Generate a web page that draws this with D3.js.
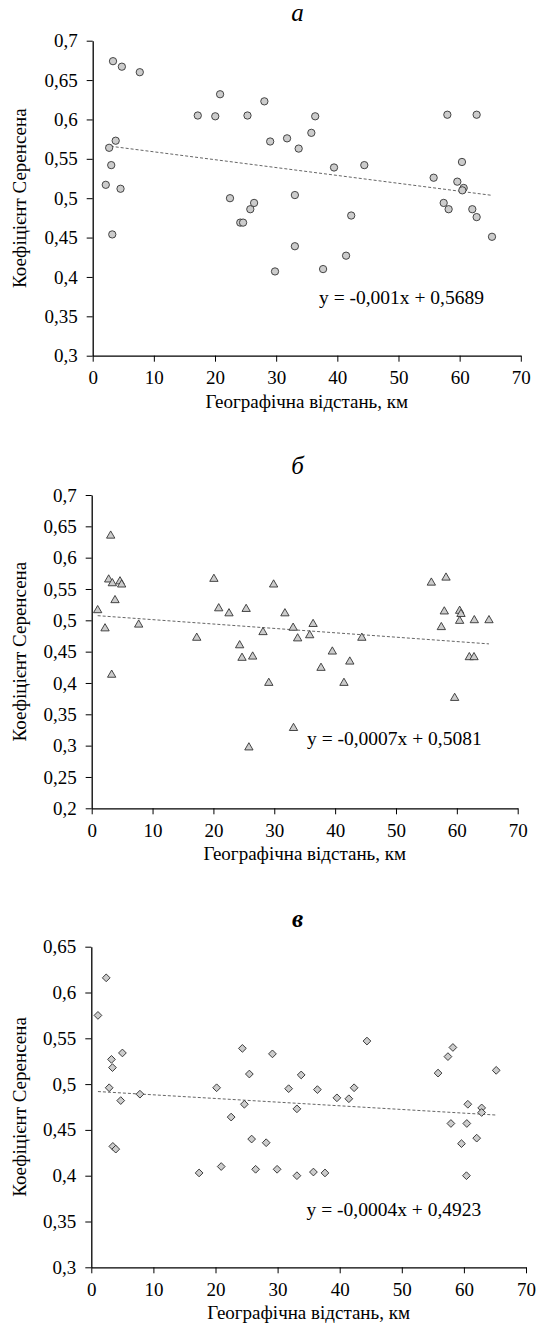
<!DOCTYPE html>
<html>
<head>
<meta charset="utf-8">
<script src="https://cdn.jsdelivr.net/npm/d3@7"></script>
<style>
body { margin: 0; background: #fff; }
svg { display: block; }
svg text { font-family: "Liberation Serif", "Times New Roman", Tinos, "DejaVu Serif", serif; }
</style>
</head>
<body>
<svg id="chart" width="538" height="1328"></svg>
<script>
// --- data ---
// а
var distA = [3.32, 4.77, 7.70, 17.18, 20.04, 20.83, 25.31, 28.07, 29.02, 31.78, 33.68, 35.75, 36.38,
    3.76, 2.69, 3.03, 2.14, 4.55, 39.46, 44.41, 55.75, 57.99, 62.78, 60.38, 59.62, 60.66, 60.44,
    22.45, 33.06, 25.77, 26.39, 24.13, 24.59, 3.2, 33.06, 29.81, 37.67, 41.43, 42.27,
    57.39, 58.2, 62.07, 62.78, 65.29];
var sorA = [0.674, 0.667, 0.660, 0.605, 0.604, 0.632, 0.605, 0.623, 0.572, 0.576, 0.563, 0.583, 0.604,
    0.573, 0.564, 0.542, 0.517, 0.512, 0.539, 0.542, 0.526, 0.606, 0.606, 0.546, 0.521, 0.513, 0.510,
    0.500, 0.504, 0.486, 0.494, 0.469, 0.469, 0.454, 0.439, 0.407, 0.410, 0.427, 0.478,
    0.494, 0.486, 0.486, 0.476, 0.451];
// б
var distB = [0.98, 2.19, 3.12, 2.79, 3.39, 4.65, 4.92, 3.83, 3.28, 7.72, 17.26, 20.08, 20.87, 22.56,
    24.31, 24.70, 25.38, 25.83, 26.45, 28.15, 29.10, 29.89, 31.75, 33.1, 33.16, 33.84, 35.82, 36.38,
    37.68, 39.54, 41.45, 42.41, 44.39, 55.81, 57.45, 57.94, 58.22, 59.64, 60.46, 60.68, 60.46,
    62.05, 62.82, 62.87, 65.28];
var sorB = [0.516, 0.487, 0.635, 0.565, 0.559, 0.562, 0.557, 0.532, 0.413, 0.493, 0.472, 0.566, 0.519, 0.511,
    0.460, 0.440, 0.518, 0.297, 0.442, 0.481, 0.400, 0.557, 0.511, 0.488, 0.328, 0.471, 0.476, 0.494,
    0.424, 0.450, 0.400, 0.434, 0.472, 0.560, 0.489, 0.514, 0.568, 0.376, 0.515, 0.510, 0.499,
    0.441, 0.441, 0.500, 0.500];
// в
var distC = [1.07, 2.40, 2.88, 3.25, 3.41, 3.47, 3.94, 4.74, 5.01, 7.83, 17.36, 20.18, 20.92, 22.52,
    24.33, 24.65, 25.45, 25.82, 26.46, 28.16, 29.17, 29.92, 31.78, 33.11, 33.11, 33.8, 35.77, 36.41,
    37.63, 39.55, 41.47, 42.32, 44.39, 55.84, 57.43, 58.23, 57.91, 59.61, 60.47, 60.63, 60.41,
    62.06, 62.86, 62.86, 65.2];
var sorC = [0.575, 0.616, 0.496, 0.527, 0.518, 0.432, 0.429, 0.482, 0.534, 0.489, 0.403, 0.496, 0.410, 0.464,
    0.539, 0.478, 0.511, 0.440, 0.407, 0.436, 0.533, 0.407, 0.495, 0.473, 0.400, 0.510, 0.404, 0.494,
    0.403, 0.485, 0.484, 0.496, 0.547, 0.512, 0.530, 0.540, 0.457, 0.435, 0.457, 0.478, 0.400,
    0.441, 0.474, 0.469, 0.515];

var panelTitles = ["а", "б", "в"];
var slopes = [-0.001, -0.0007, -0.0004];
var intercepts = [0.5689, 0.5081, 0.4923];
var equations = ["y = -0,001x + 0,5689", "y = -0,0007x + 0,5081", "y = -0,0004x + 0,4923"];
var xTicks = [0, 10, 20, 30, 40, 50, 60, 70];
var yTicksA = [0.3, 0.35, 0.4, 0.45, 0.5, 0.55, 0.6, 0.65, 0.7];
var yTicksB = [0.2, 0.25, 0.3, 0.35, 0.4, 0.45, 0.5, 0.55, 0.6, 0.65, 0.7];
var yTicksC = [0.3, 0.35, 0.4, 0.45, 0.5, 0.55, 0.6, 0.65];
var xTitle = "Географічна відстань, км";
var yTitle = "Коефіцієнт Серенсена";

// --- layout ---
var panels = [
    {x: distA, y: sorA, ticks: yTicksA, left: 92.7, right: 520.8, top: 40.7, bottom: 355.7,
     titleY: 21, eqX: 319, eqY: 304, shape: "circle", bold: false},
    {x: distB, y: sorB, ticks: yTicksB, left: 91.7, right: 517.7, top: 495, bottom: 808.3,
     titleY: 474, eqX: 307, eqY: 745, shape: "triangle", bold: false},
    {x: distC, y: sorC, ticks: yTicksC, left: 91.3, right: 526, top: 946.7, bottom: 1267.3,
     titleY: 927, eqX: 306.6, eqY: 1216, shape: "diamond", bold: true}
];

var svg = d3.select("#chart");
var fmt = function(v) { return (+v.toFixed(2)).toString().replace(".", ","); };

panels.forEach(function(p, i) {
    var g = svg.append("g");
    var x = d3.scaleLinear().domain([0, 70]).range([p.left, p.right]);
    var y = d3.scaleLinear().domain(d3.extent(p.ticks)).range([p.bottom, p.top]);

    g.append("g")
        .attr("transform", "translate(" + p.left + ",0)")
        .call(d3.axisLeft(y).tickValues(p.ticks).tickFormat(fmt).tickSize(6).tickSizeOuter(0).tickPadding(9));
    g.append("g")
        .attr("transform", "translate(0," + p.bottom + ")")
        .call(d3.axisBottom(x).tickValues(xTicks).tickSize(6).tickSizeOuter(0).tickPadding(9));

    g.selectAll("g").attr("font-family", null);
    g.selectAll(".domain").attr("stroke", "#000").attr("stroke-width", 1.3);
    g.selectAll(".tick line").attr("stroke", "#000").attr("stroke-width", 1);
    g.selectAll(".tick text").attr("font-size", 19).attr("fill", "#000");

    // trend line
    var x0 = d3.min(p.x), x1 = d3.max(p.x);
    g.append("line")
        .attr("x1", x(x0)).attr("y1", y(slopes[i] * x0 + intercepts[i]))
        .attr("x2", x(x1)).attr("y2", y(slopes[i] * x1 + intercepts[i]))
        .attr("stroke", "#666").attr("stroke-width", 1).attr("stroke-dasharray", "3,2");

    // points
    var pts = p.x.map(function(d, k) { return [d, p.y[k]]; });
    var sym;
    if (p.shape == "circle") sym = d3.symbol().type(d3.symbolCircle).size(42);
    else if (p.shape == "triangle") sym = d3.symbol().type(d3.symbolTriangle).size(30);
    else sym = d3.symbol().type(d3.symbolSquare).size(30);

    g.selectAll("path.pt").data(pts).enter().append("path")
        .attr("class", "pt")
        .attr("d", sym)
        .attr("transform", function(d) {
            return "translate(" + x(d[0]) + "," + y(d[1]) + ")" + (p.shape == "diamond" ? " rotate(45)" : "");
        })
        .attr("fill", "#cccccc")
        .attr("stroke", "#333")
        .attr("stroke-width", 0.9);

    // equation
    g.append("text")
        .attr("x", p.eqX).attr("y", p.eqY)
        .attr("font-size", 19.5)
        .text(equations[i]);

    // titles
    g.append("text")
        .attr("x", 297.6).attr("y", p.titleY)
        .attr("text-anchor", "middle")
        .attr("font-size", 25).attr("font-style", "italic")
        .attr("font-weight", p.bold ? "bold" : "normal")
        .text(panelTitles[i]);

    g.append("text")
        .attr("x", (p.left + p.right) / 2).attr("y", p.bottom + 52)
        .attr("text-anchor", "middle")
        .attr("font-size", 19)
        .text(xTitle);

    g.append("text")
        .attr("transform", "translate(26," + ((p.top + p.bottom) / 2) + ") rotate(-90)")
        .attr("text-anchor", "middle")
        .attr("font-size", 19)
        .text(yTitle);
});
</script>
</body>
</html>
